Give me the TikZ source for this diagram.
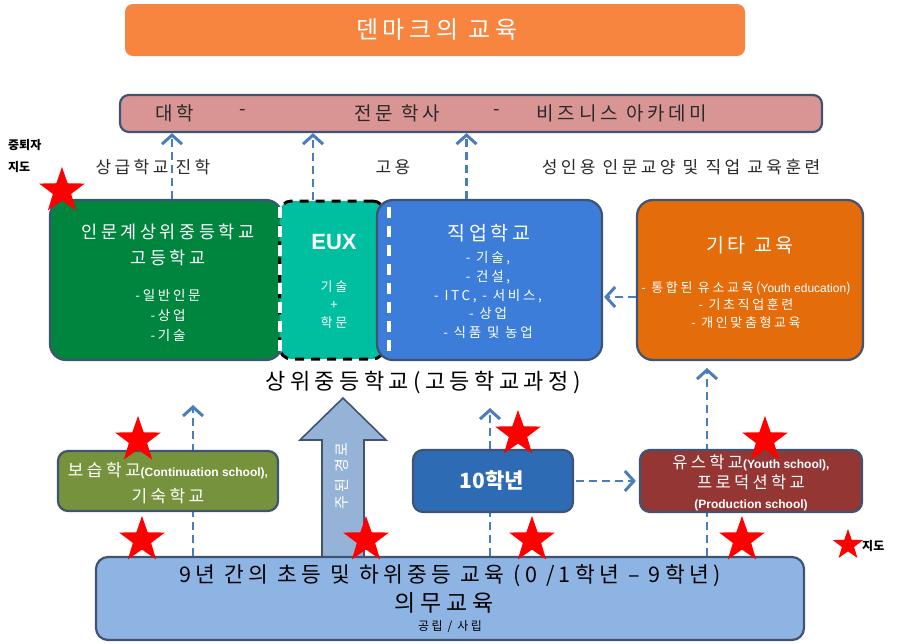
\documentclass[tikz,border=0pt]{standalone}
\usepackage{fontspec}
\setmainfont[LetterSpace=20]{Noto Sans CJK KR}
\newfontfamily\krb{Noto Sans CJK KR}
\newfontfamily\lat{Liberation Sans}
\usetikzlibrary{arrows.meta,shapes.geometric}
\newcommand\fs[2]{\fontsize{#1}{#2}\selectfont}
\definecolor{bord}{HTML}{3F5373}
\definecolor{arr}{HTML}{4A7EBB}
\definecolor{titleor}{HTML}{F7853F}
\definecolor{pinkc}{HTML}{D99594}
\definecolor{greenc}{HTML}{00853F}
\definecolor{tealc}{HTML}{00BFA0}
\definecolor{vocblue}{HTML}{3B7DD8}
\definecolor{orc}{HTML}{E46C0A}
\definecolor{olive}{HTML}{76923C}
\definecolor{tenblue}{HTML}{2E6BB5}
\definecolor{dred}{HTML}{943634}
\definecolor{botblue}{HTML}{8EB4E3}
\definecolor{bigarr}{HTML}{95B3D7}
\definecolor{txt}{HTML}{2A2A2A}
\begin{document}
\begin{tikzpicture}[x=1pt,y=-1pt,
  box/.style={draw=bord,line width=2.2pt,rounded corners=16pt,inner sep=0pt},
  sbox/.style={draw=bord,line width=2.2pt,rounded corners=10pt,inner sep=0pt},
  wt/.style={text=white,align=center,inner sep=0pt},
  bt/.style={text=txt,align=center,inner sep=0pt},
  darr/.style={draw=arr,line width=2.8pt,dash pattern=on 8pt off 5pt,
    -{Straight Barb[length=9pt,width=20pt,line width=3pt]}},
  dline/.style={draw=arr,line width=2.8pt,dash pattern=on 8pt off 5pt},
  wdash/.style={draw=white,line width=3.5pt,dash pattern=on 11pt off 8pt},
  redstar/.style={star,star points=5,star point ratio=2.5,fill=red,draw=none,minimum size=48pt,inner sep=0pt}]
\useasboundingbox (0,0) rectangle (899,643);
\fill[white] (0,0) rectangle (899,643);

% title
\node[fill=titleor,rounded corners=8pt,minimum width=620pt,minimum height=52pt,inner sep=0pt] (title) at (435,30) {};
\node[wt,font={\fs{24}{28}}] (titlet) at (437,30) {덴마크의 교육};

% top box
\node[box,rounded corners=9pt,fill=pinkc,minimum width=702pt,minimum height=37pt] (top) at (471,113.5) {};
\node[bt,font={\fs{19}{23}}] (t1) at (175,113) {대학};
\node[bt,font={\fs{19}{23}}] (t2) at (243,113) {-};
\node[bt,font={\fs{19}{23}}] (t3) at (397,113) {전문 학사};
\node[bt,font={\fs{19}{23}}] (t4) at (497,113) {-};
\node[bt,font={\fs{19}{23}}] (t5) at (622,113) {비즈니스 아카데미};

% labels
\node[bt,font={\fs{17}{21}}] (l1) at (153,167) {상급학교 진학};
\node[bt,font={\fs{17}{21}}] (l2) at (393,167) {고용};
\node[bt,font={\fs{17}{21}}] (l3) at (681,167) {성인용 인문교양 및 직업 교육훈련};
\node[text=black,align=left,inner sep=0pt,anchor=west,font={\krb\fs{12}{22}\bfseries}] (drop) at (8,156) {중퇴자\\지도};

% middle boxes
\node[box,fill=greenc,minimum width=232pt,minimum height=160pt] (green) at (166,280) {};
\node[draw=black,line width=3pt,dash pattern=on 9pt off 7pt,rounded corners=12pt,fill=tealc,minimum width=105pt,minimum height=158pt,inner sep=0pt] (eux) at (332,280) {};
\node[box,fill=vocblue,minimum width=225pt,minimum height=160pt] (voc) at (489.5,280) {};
\node[box,fill=orc,minimum width=226pt,minimum height=160pt] (other) at (750,280) {};
\draw[wdash] ([xshift=-3pt,yshift=-8pt]green.north east) -- ([xshift=-3pt,yshift=8pt]green.south east);
\draw[wdash] ([xshift=13pt,yshift=-8pt]voc.north west) -- ([xshift=13pt,yshift=8pt]voc.south west);

\node[wt,font={\fs{17.5}{26}}] (g1) at (168,245) {인문계상위중등학교\\고등학교};
\node[wt,font={\fs{13.5}{20}}] (g2) at (168,315) {-일반인문\\-상업\\-기술};
\node[wt,font={\lat\fs{22}{26}\bfseries}] (e1) at (334,242) {EUX};
\node[wt,font={\fs{13}{18}}] (e2) at (334,305) {기술\\+\\학문};
\node[wt,font={\fs{19.5}{24}}] (v1) at (489,233) {직업학교};
\node[wt,font={\fs{13.5}{18.75}}] (v2) at (488,295) {- 기술,\\- 건설,\\- ITC, - 서비스,\\- 상업\\- 식품 및 농업};
\node[wt,font={\fs{19.5}{24}}] (o1) at (750,245) {기타 교육};
\node[wt,font={\fs{13}{17.5}}] (o2) at (746,305) {- 통합된 유소교육({\lat\fs{12}{17.5}Youth education})\\- 기초직업훈련\\- 개인맞춤형교육};

% arrows up to top
\draw[darr] ([xshift=6pt]green.north) -- ([xshift=6pt]green.north |- top.south);
\draw[darr] ([xshift=-19pt]eux.north) -- ([xshift=-19pt]eux.north |- top.south);
\draw[darr] ([xshift=-23pt]voc.north) -- ([xshift=-23pt]voc.north |- top.south);
\draw[darr,shorten >=1pt] ([yshift=-17pt]other.west) -- ([yshift=-17pt]other.west -| voc.east);

\node[bt,text=black,font={\fs{22}{26}}] (upper) at (423,383) {상위중등학교(고등학교과정)};

% coordinates for lower arrows
\coordinate (c1) at (193,405);
\coordinate (c2) at (490,408);
\coordinate (c3) at (707,368);

% big arrow
\draw[fill=bigarr,draw=bord,line width=1.6pt,line join=miter] (322,560) -- (322,440) -- (300,440) -- (343,398) -- (386,440) -- (364,440) -- (364,560) -- cycle;
\node[wt,rotate=90,font={\fs{15}{17}}] (main) at (342,476) {주된 경로};

% bottom box
\node[box,rounded corners=12pt,fill=botblue,minimum width=708pt,minimum height=83pt] (bottom) at (450,598.5) {};
\node[text=black,align=center,inner sep=0pt,font={\fs{21.5}{25}}] (b1) at (450,576) {9년 간의 초등 및 하위중등 교육 (0 /1학년 – 9학년)};
\node[text=black,align=center,inner sep=0pt,font={\fs{23}{27}}] (b2) at (444,603) {의무교육};
\node[text=black,align=center,inner sep=0pt,font={\fs{12}{14}}] (b3) at (450,627) {공립 / 사립};

% lower dashed arrows (behind boxes)
\draw[darr] (bottom.north -| c1) -- (c1);
\draw[darr] (bottom.north -| c3) -- (c3);

% lower boxes
\node[sbox,fill=olive,minimum width=220pt,minimum height=60pt] (cont) at (168,481) {};
\node[wt,font={\fs{17}{26}}] (ct) at (168,483) {보습학교{\lat\fs{12}{26}\bfseries(Continuation school),}\\기숙학교};
\node[sbox,fill=tenblue,minimum width=160pt,minimum height=62pt] (ten) at (493,481) {};
\node[wt,font={\krb\fs{21}{25}\bfseries}] (tent) at (492,481) {10학년};
\node[sbox,fill=dred,minimum width=222pt,minimum height=62pt] (youth) at (751,481) {};
\node[wt,font={\fs{16.5}{20}}] (yt) at (751,483) {유스학교{\lat\fs{12}{20}\bfseries(Youth school),}\\프로덕션학교\\{\lat\fs{12}{20}\bfseries(Production school)}};

\draw[dline] (bottom.north -| c2) -- (ten.south -| c2);
\draw[darr] (ten.north -| c2) -- (c2);
\draw[darr,shorten >=3pt,shorten <=2pt] (ten.east) -- (youth.west);

% stars
\node[redstar] (s1) at (62,191) {};
\node[redstar] (s2) at (138,440) {};
\node[redstar] (s3) at (142,540) {};
\node[redstar] (s4) at (366,540) {};
\node[redstar] (s5) at (518,434) {};
\node[redstar] (s6) at (532,540) {};
\node[redstar] (s7) at (765,440) {};
\node[redstar] (s8) at (742,540) {};
\node[redstar,minimum size=32pt] (s9) at (848,545) {};
\node[text=black,inner sep=0pt,anchor=west,font={\krb\fs{12}{14}\bfseries}] (legend) at (862,546) {지도};
\end{tikzpicture}
\end{document}
